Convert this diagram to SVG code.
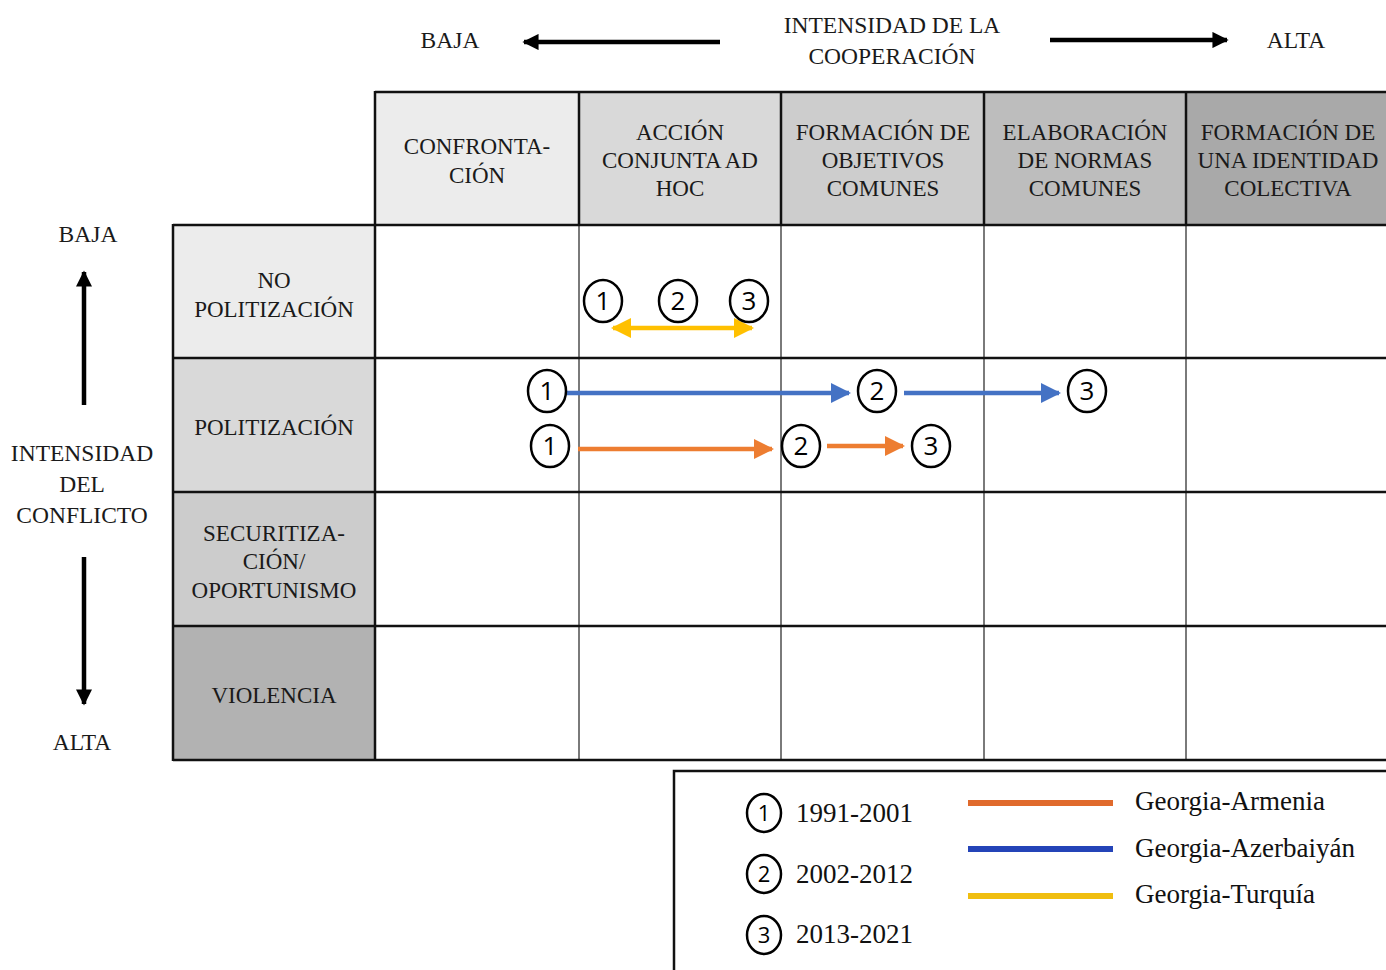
<svg xmlns="http://www.w3.org/2000/svg" width="1386" height="970" viewBox="0 0 1386 970">
  <defs>
    <style>
      .t { font-family: "Liberation Serif", "DejaVu Serif", serif; fill: #1a1a1a; text-anchor: middle; }
      .hd { font-size: 23px; }
      .ax { font-size: 23.5px; }
      .lg { font-size: 27px; text-anchor: start; fill: #111; }
      .num { font-family: "Open Sans", "Liberation Sans", sans-serif; font-size: 26px; font-weight: 500; text-anchor: middle; fill: #000; }
      .numS { font-family: "Open Sans", "Liberation Sans", sans-serif; font-size: 22px; font-weight: 500; text-anchor: middle; fill: #000; }
      .circ { fill: #fff; stroke: #000; stroke-width: 2.5; }
      .frame { stroke: #111; stroke-width: 2.5; fill: none; }
      .inner { stroke: #7a7a7a; stroke-width: 2; }
      .axis { stroke: #000; stroke-width: 4.5; fill: none; }
    </style>
    <marker id="blackHead" viewBox="0 0 10 10" refX="9" refY="5" markerWidth="3.6" markerHeight="3.6" orient="auto-start-reverse">
      <path d="M0,0 L10,5 L0,10 z" fill="#000"/>
    </marker>
    <marker id="yHead" viewBox="0 0 10 10" refX="9" refY="5" markerWidth="4.5" markerHeight="4.5" orient="auto-start-reverse">
      <path d="M0,0 L10,5 L0,10 z" fill="#ffc000"/>
    </marker>
    <marker id="bHead" viewBox="0 0 10 10" refX="9" refY="5" markerWidth="4.5" markerHeight="4.5" orient="auto">
      <path d="M0,0 L10,5 L0,10 z" fill="#4472c4"/>
    </marker>
    <marker id="oHead" viewBox="0 0 10 10" refX="9" refY="5" markerWidth="4.5" markerHeight="4.5" orient="auto">
      <path d="M0,0 L10,5 L0,10 z" fill="#ed7d31"/>
    </marker>
  </defs>

  <rect width="1386" height="970" fill="#fff"/>

  <!-- horizontal axis: cooperation intensity -->
  <g id="axis-cooperation">
    <text class="t ax" x="450" y="48">BAJA</text>
    <line class="axis" x1="720" y1="42" x2="524" y2="42" marker-end="url(#blackHead)"/>
    <text class="t ax" x="892" y="33">INTENSIDAD DE LA</text>
    <text class="t ax" x="892" y="64">COOPERACIÓN</text>
    <line class="axis" x1="1050" y1="40" x2="1227" y2="40" marker-end="url(#blackHead)"/>
    <text class="t ax" x="1296" y="48">ALTA</text>
  </g>

  <!-- vertical axis: conflict intensity -->
  <g id="axis-conflict">
    <text class="t ax" x="88" y="242">BAJA</text>
    <line class="axis" x1="84" y1="405" x2="84" y2="272" marker-end="url(#blackHead)"/>
    <text class="t ax" x="82" y="461">INTENSIDAD</text>
    <text class="t ax" x="82" y="492">DEL</text>
    <text class="t ax" x="82" y="523">CONFLICTO</text>
    <line class="axis" x1="84" y1="557" x2="84" y2="704" marker-end="url(#blackHead)"/>
    <text class="t ax" x="82" y="750">ALTA</text>
  </g>

  <!-- column headers -->
  <g id="col-confrontacion">
    <rect x="375" y="92" width="204" height="133" fill="#ececec"/>
    <text class="t hd" x="477" y="154">CONFRONTA-</text>
    <text class="t hd" x="477" y="183">CIÓN</text>
  </g>
  <g id="col-accion">
    <rect x="579" y="92" width="202" height="133" fill="#d9d9d9"/>
    <text class="t hd" x="680" y="140">ACCIÓN</text>
    <text class="t hd" x="680" y="168">CONJUNTA AD</text>
    <text class="t hd" x="680" y="196">HOC</text>
  </g>
  <g id="col-objetivos">
    <rect x="781" y="92" width="203" height="133" fill="#cdcdcd"/>
    <text class="t hd" x="883" y="140">FORMACIÓN DE</text>
    <text class="t hd" x="883" y="168">OBJETIVOS</text>
    <text class="t hd" x="883" y="196">COMUNES</text>
  </g>
  <g id="col-normas">
    <rect x="984" y="92" width="202" height="133" fill="#bdbdbd"/>
    <text class="t hd" x="1085" y="140">ELABORACIÓN</text>
    <text class="t hd" x="1085" y="168">DE NORMAS</text>
    <text class="t hd" x="1085" y="196">COMUNES</text>
  </g>
  <g id="col-identidad">
    <rect x="1186" y="92" width="200" height="133" fill="#a9a9a9"/>
    <text class="t hd" x="1288" y="140">FORMACIÓN DE</text>
    <text class="t hd" x="1288" y="168">UNA IDENTIDAD</text>
    <text class="t hd" x="1288" y="196">COLECTIVA</text>
  </g>

  <!-- row headers -->
  <g id="row-no-politizacion">
    <rect x="173" y="225" width="202" height="133" fill="#ececec"/>
    <text class="t hd" x="274" y="288">NO</text>
    <text class="t hd" x="274" y="317">POLITIZACIÓN</text>
  </g>
  <g id="row-politizacion">
    <rect x="173" y="358" width="202" height="134" fill="#d9d9d9"/>
    <text class="t hd" x="274" y="435">POLITIZACIÓN</text>
  </g>
  <g id="row-securitizacion">
    <rect x="173" y="492" width="202" height="134" fill="#cccccc"/>
    <text class="t hd" x="274" y="541">SECURITIZA-</text>
    <text class="t hd" x="274" y="569">CIÓN/</text>
    <text class="t hd" x="274" y="598">OPORTUNISMO</text>
  </g>
  <g id="row-violencia">
    <rect x="173" y="626" width="202" height="134" fill="#b2b2b2"/>
    <text class="t hd" x="274" y="703">VIOLENCIA</text>
  </g>

  <!-- grid lines -->
  <g id="grid">
    <line class="inner" x1="579" y1="225" x2="579" y2="760"/>
    <line class="inner" x1="781" y1="225" x2="781" y2="760"/>
    <line class="inner" x1="984" y1="225" x2="984" y2="760"/>
    <line class="inner" x1="1186" y1="225" x2="1186" y2="760"/>
    <line class="frame" x1="579" y1="92" x2="579" y2="225"/>
    <line class="frame" x1="781" y1="92" x2="781" y2="225"/>
    <line class="frame" x1="984" y1="92" x2="984" y2="225"/>
    <line class="frame" x1="1186" y1="92" x2="1186" y2="225"/>
    <line class="frame" x1="375" y1="92" x2="1386" y2="92"/>
    <line class="frame" x1="375" y1="91" x2="375" y2="760"/>
    <line class="frame" x1="173" y1="225" x2="1386" y2="225"/>
    <line class="frame" x1="173" y1="224" x2="173" y2="761"/>
    <line class="frame" x1="173" y1="358" x2="1386" y2="358"/>
    <line class="frame" x1="173" y1="492" x2="1386" y2="492"/>
    <line class="frame" x1="173" y1="626" x2="1386" y2="626"/>
    <line class="frame" x1="173" y1="760" x2="1386" y2="760"/>
  </g>

  <!-- trajectories -->
  <g id="connectors">
    <line x1="613" y1="328" x2="752" y2="328" stroke="#ffc000" stroke-width="4.5" marker-start="url(#yHead)" marker-end="url(#yHead)"/>
    <line x1="567" y1="393" x2="849" y2="393" stroke="#4472c4" stroke-width="4.5" marker-end="url(#bHead)"/>
    <line x1="904" y1="393" x2="1059" y2="393" stroke="#4472c4" stroke-width="4.5" marker-end="url(#bHead)"/>
    <line x1="578" y1="449" x2="772" y2="449" stroke="#ed7d31" stroke-width="4.5" marker-end="url(#oHead)"/>
    <line x1="827" y1="446" x2="903" y2="446" stroke="#ed7d31" stroke-width="4.5" marker-end="url(#oHead)"/>
  </g>

  <!-- period markers: Georgia-Turquía -->
  <g id="tr-1"><ellipse class="circ" cx="603" cy="301" rx="19" ry="21"/><text class="num" x="603" y="310">1</text></g>
  <g id="tr-2"><ellipse class="circ" cx="678" cy="301" rx="19" ry="21"/><text class="num" x="678" y="310">2</text></g>
  <g id="tr-3"><ellipse class="circ" cx="749" cy="301" rx="19" ry="21"/><text class="num" x="749" y="310">3</text></g>
  <!-- period markers: Georgia-Azerbaiyán -->
  <g id="az-1"><ellipse class="circ" cx="547" cy="391" rx="19" ry="21"/><text class="num" x="547" y="400">1</text></g>
  <g id="az-2"><ellipse class="circ" cx="877" cy="391" rx="19" ry="21"/><text class="num" x="877" y="400">2</text></g>
  <g id="az-3"><ellipse class="circ" cx="1087" cy="391" rx="19" ry="21"/><text class="num" x="1087" y="400">3</text></g>
  <!-- period markers: Georgia-Armenia -->
  <g id="am-1"><ellipse class="circ" cx="550" cy="446" rx="19" ry="21"/><text class="num" x="550" y="455">1</text></g>
  <g id="am-2"><ellipse class="circ" cx="801" cy="446" rx="19" ry="21"/><text class="num" x="801" y="455">2</text></g>
  <g id="am-3"><ellipse class="circ" cx="931" cy="446" rx="19" ry="21"/><text class="num" x="931" y="455">3</text></g>

  <!-- legend -->
  <g id="legend">
    <rect x="674" y="771" width="720" height="210" fill="#fff" stroke="#111" stroke-width="2.5"/>
    <ellipse class="circ" cx="764" cy="813" rx="17" ry="19"/><text class="numS" x="764" y="821">1</text>
    <text class="t lg" x="796" y="822">1991-2001</text>
    <ellipse class="circ" cx="764" cy="874" rx="17" ry="19"/><text class="numS" x="764" y="882">2</text>
    <text class="t lg" x="796" y="883">2002-2012</text>
    <ellipse class="circ" cx="764" cy="935" rx="17" ry="19"/><text class="numS" x="764" y="943">3</text>
    <text class="t lg" x="796" y="943">2013-2021</text>
    <line x1="968" y1="803" x2="1113" y2="803" stroke="#e06a2c" stroke-width="6"/>
    <text class="t lg" x="1135" y="810">Georgia-Armenia</text>
    <line x1="968" y1="849" x2="1113" y2="849" stroke="#2444b8" stroke-width="6"/>
    <text class="t lg" x="1135" y="857">Georgia-Azerbaiyán</text>
    <line x1="968" y1="896" x2="1113" y2="896" stroke="#f0be10" stroke-width="6"/>
    <text class="t lg" x="1135" y="903">Georgia-Turquía</text>
  </g>
</svg>
